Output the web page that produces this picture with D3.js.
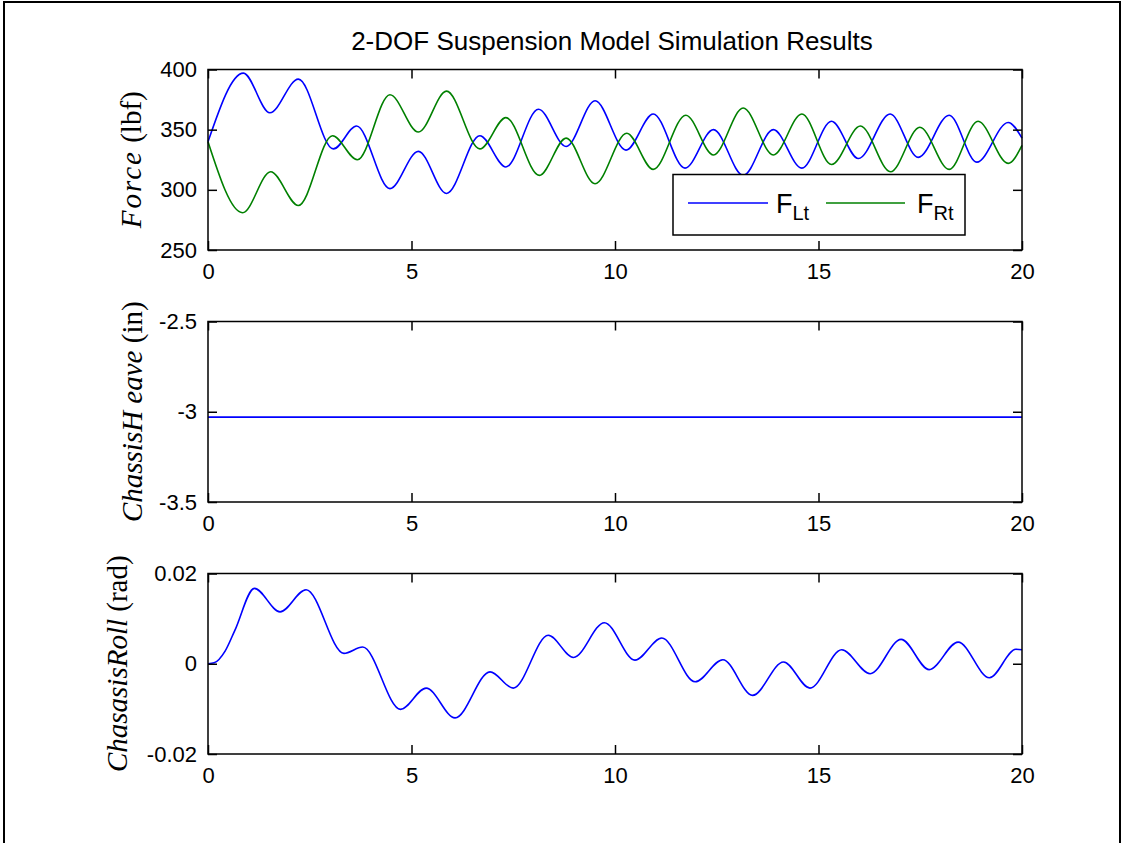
<!DOCTYPE html>
<html>
<head>
<meta charset="utf-8">
<script src="https://cdn.jsdelivr.net/npm/d3@7"></script>
<style>
  html, body { margin: 0; padding: 0; background: #fff; }
  svg { display: block; }
  .tick text { font-family: Arial, "Liberation Sans", sans-serif; }
</style>
</head>
<body>
<svg id="chart" width="1123" height="843"></svg>
<script>
// ---------- data ----------
const chartTitle = "2-DOF Suspension Model Simulation Results";

const forceLtTime = [0, 0.87, 1.52, 2.22, 3.08, 3.65, 4.47, 5.17, 5.86, 6.68, 7.32, 8.12, 8.80, 9.51, 10.27, 10.94, 11.72, 12.42, 13.15, 13.89, 14.59, 15.32, 15.98, 16.76, 17.45, 18.21, 18.89, 19.66, 20];
const forceLtValue = [340, 397, 364, 392, 334, 353, 301, 332, 297, 345, 319, 367, 336, 374, 333, 363, 318, 350, 312, 350, 318, 357, 326, 363, 327, 362, 323, 356, 343];

const forceRtTime = [0, 0.85, 1.54, 2.22, 3.06, 3.67, 4.47, 5.17, 5.86, 6.68, 7.32, 8.14, 8.80, 9.51, 10.29, 10.94, 11.74, 12.42, 13.15, 13.89, 14.59, 15.32, 16.03, 16.77, 17.49, 18.21, 18.92, 19.66, 20];
const forceRtValue = [340, 281, 315, 287, 345, 325, 379, 348, 382, 334, 360, 312, 343, 305, 347, 317, 362, 329, 368, 329, 363, 321, 353, 315, 352, 317, 357, 322, 337];

const heaveTime = [0, 20];
const heaveValue = [-3.03, -3.03];

const rollTime = [0, 0.15, 0.42, 0.66, 1.14, 1.77, 2.41, 3.34, 3.80, 4.73, 5.36, 6.07, 6.93, 7.50, 8.36, 8.98, 9.74, 10.49, 11.15, 11.97, 12.65, 13.38, 14.14, 14.79, 15.57, 16.27, 17.03, 17.72, 18.43, 19.20, 19.85, 20];
const rollValue = [0, 0.0002, 0.0028, 0.0074, 0.0167, 0.0115, 0.0164, 0.0023, 0.0037, -0.0101, -0.0054, -0.0120, -0.0018, -0.0054, 0.0063, 0.0014, 0.0091, 0.0008, 0.0057, -0.0040, 0.0009, -0.0070, 0.0004, -0.0054, 0.0031, -0.0022, 0.0054, -0.0013, 0.0048, -0.0031, 0.0032, 0.0031];

const xTicks = [0, 5, 10, 15, 20];
const forceTicks = [250, 300, 350, 400];
const heaveTicks = [-3.5, -3, -2.5];
const rollTicks = [-0.02, 0, 0.02];
const legendLabels = [["F", "Lt"], ["F", "Rt"]];
const seriesColors = ["#0000ff", "#008000"];

// ---------- layout ----------
const svg = d3.select("#chart");
const W = 1123, H = 843;
svg.append("rect").attr("width", W).attr("height", H).attr("fill", "#fff");
// outer frame
svg.append("path")
  .attr("d", `M4,843 V2 H1120 V843`)
  .attr("fill", "none").attr("stroke", "#000").attr("stroke-width", 2);

const left = 208, right = 1022;
const panelH = 180.5;
const panelTops = [69.5, 321.5, 573.5];
const tickLen = 9;

const x = d3.scaleLinear().domain([0, 20]).range([left, right]);

function fmt(d) { return String(d).replace("\u2212", "-"); }

function panel(top, yDomain, yTicks, series, ylabelParts) {
  const bottom = top + panelH;
  const y = d3.scaleLinear().domain(yDomain).range([bottom, top]);
  const g = svg.append("g");

  // series lines
  const line = d3.line().x(d => x(d[0])).y(d => y(d[1])).curve(d3.curveMonotoneX);
  series.forEach(s => {
    const pts = s.t.map((t, i) => [t, s.v[i]]);
    g.append("path").attr("d", line(pts))
      .attr("fill", "none").attr("stroke", s.color).attr("stroke-width", 1.6)
      .attr("stroke-linejoin", "round");
  });

  // axes (MATLAB-like: ticks inward on all four sides)
  const ax = (axis, tr, labels) => {
    const a = g.append("g").attr("transform", tr).call(axis);
    a.select(".domain").remove();
    a.selectAll(".tick line").attr("stroke", "#000").attr("stroke-width", 1.5);
    a.selectAll(".tick text").attr("fill", "#000").attr("font-size", 22);
    if (!labels) a.selectAll(".tick text").remove();
    return a;
  };
  ax(d3.axisBottom(x).tickValues(xTicks).tickSize(-tickLen).tickPadding(13).tickFormat(fmt), `translate(0,${bottom})`, true);
  ax(d3.axisTop(x).tickValues(xTicks).tickSize(-tickLen), `translate(0,${top})`, false);
  ax(d3.axisLeft(y).tickValues(yTicks).tickSize(-tickLen).tickPadding(11).tickFormat(fmt), `translate(${left},0)`, true);
  ax(d3.axisRight(y).tickValues(yTicks).tickSize(-tickLen), `translate(${right},0)`, false);

  // box
  g.append("rect").attr("x", left).attr("y", top).attr("width", right - left).attr("height", panelH)
    .attr("fill", "none").attr("stroke", "#000").attr("stroke-width", 1.5);

  // y label
  const lab = g.append("text")
    .attr("transform", `translate(${ylabelParts.x},${top + panelH / 2}) rotate(-90)`)
    .attr("text-anchor", "middle")
    .attr("font-family", "'Liberation Serif', 'Times New Roman', serif")
    .attr("font-size", 29).attr("fill", "#000");
  ylabelParts.parts.forEach(p => {
    const ts = lab.append("tspan").attr("font-style", p.italic ? "italic" : "normal").text(p.text);
    if (p.spacing) ts.attr("letter-spacing", p.spacing);
  });
  return { y, g };
}

// title
svg.append("text").attr("x", 612).attr("y", 50).attr("text-anchor", "middle")
  .attr("font-family", "Arial, 'Liberation Sans', sans-serif").attr("font-size", 26)
  .attr("fill", "#000").text(chartTitle);

// panel 1: forces
panel(panelTops[0], [250, 400], forceTicks, [
  { t: forceLtTime, v: forceLtValue, color: seriesColors[0] },
  { t: forceRtTime, v: forceRtValue, color: seriesColors[1] }
], { x: 141, parts: [{ text: "Force", italic: true, spacing: 2 }, { text: " (lbf)", italic: false }] });

// legend
const lg = svg.append("g");
const lx = 673, ly = 174.5, lw = 292, lh = 60.5;
lg.append("rect").attr("x", lx).attr("y", ly).attr("width", lw).attr("height", lh)
  .attr("fill", "#fff").attr("stroke", "#000").attr("stroke-width", 1.5);
const legendItems = [
  { x1: 688, x2: 768, tx: 776 },
  { x1: 826, x2: 905, tx: 917 }
];
legendItems.forEach((it, i) => {
  lg.append("line").attr("x1", it.x1).attr("x2", it.x2).attr("y1", 203).attr("y2", 203)
    .attr("stroke", seriesColors[i]).attr("stroke-width", 1.6);
  const t = lg.append("text").attr("x", it.tx).attr("y", 213)
    .attr("font-family", "Arial, 'Liberation Sans', sans-serif").attr("font-size", 27).attr("fill", "#000");
  t.append("tspan").text(legendLabels[i][0]);
  t.append("tspan").attr("font-size", 20).attr("dy", 7).text(legendLabels[i][1]);
});

// panel 2: heave
panel(panelTops[1], [-3.5, -2.5], heaveTicks, [
  { t: heaveTime, v: heaveValue, color: seriesColors[0] }
], { x: 142, parts: [{ text: "ChassisH eave", italic: true }, { text: " (in)", italic: false }] });

// panel 3: roll
panel(panelTops[2], [-0.02, 0.02], rollTicks, [
  { t: rollTime, v: rollValue, color: seriesColors[0] }
], { x: 127, parts: [{ text: "ChasasisRoll", italic: true }, { text: " (rad)", italic: false }] });
</script>
</body>
</html>
